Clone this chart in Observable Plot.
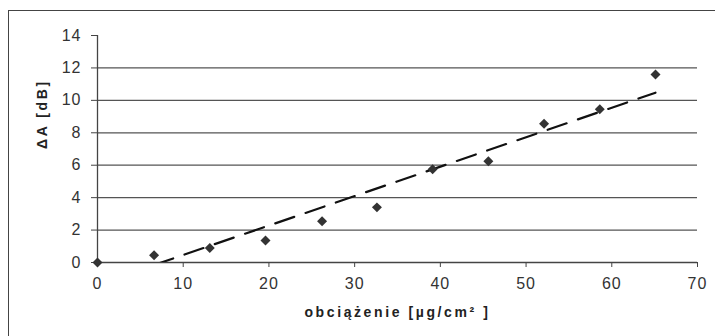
<!DOCTYPE html>
<html>
<head>
<meta charset="utf-8">
<script src="https://cdn.jsdelivr.net/npm/d3@7"></script>
<script src="https://cdn.jsdelivr.net/npm/@observablehq/plot@0.6"></script>
<style>
  html, body { margin: 0; padding: 0; background: #fff; overflow: hidden; }
  #wrap { position: relative; width: 715px; height: 336px; overflow: hidden; }
  #frame { position: absolute; left: 8px; top: 10px; width: 800px; height: 400px; border: 1px solid #444; box-sizing: border-box; pointer-events: none; }
  #chart svg { display: block; }
  g[aria-label="x-axis tick label"] text, g[aria-label="y-axis tick label"] text { letter-spacing: 1px; }
  g[aria-label="text"] text { letter-spacing: 2.6px; }
</style>
</head>
<body>
<div id="wrap"><div id="chart"></div><div id="frame"></div></div>
<script>
// Data
const loading = [0, 6.6, 13.1, 19.6, 26.2, 32.6, 39.1, 45.6, 52.1, 58.6, 65.1];
const deltaA  = [0, 0.45, 0.9, 1.35, 2.55, 3.4, 5.75, 6.25, 8.55, 9.45, 11.6];
const xTicks = [0, 10, 20, 30, 40, 50, 60, 70];
const yTicks = [0, 2, 4, 6, 8, 10, 12, 14];
const gridValues = [2, 4, 6, 8, 10, 12];
const xTitle = "obciążenie [µg/cm² ]";
const yTitle = "ΔA [dB]";

const data = loading.map((x, i) => ({x, y: deltaA[i]}));

const chart = Plot.plot({
  width: 715,
  height: 336,
  marginLeft: 97,
  marginRight: 18,
  marginTop: 35,
  marginBottom: 74,
  style: {fontFamily: "'Liberation Sans', Arial, sans-serif", fontSize: "16px", background: "transparent", color: "#333"},
  x: {domain: [0, 70]},
  y: {domain: [0, 14]},
  marks: [
    Plot.ruleY(gridValues, {stroke: "#555", strokeWidth: 1.3}),
    Plot.axisX({ticks: xTicks, tickSize: 5, tickPadding: 10, label: null, stroke: "#444", fill: "#333"}),
    Plot.axisY({ticks: yTicks, tickSize: 6, tickPadding: 10, label: null, stroke: "#444", fill: "#333"}),
    Plot.ruleY([0], {stroke: "#444", strokeWidth: 1.3}),
    Plot.ruleX([0], {stroke: "#444", strokeWidth: 1.3}),
    Plot.linearRegressionY(data, {x: "x", y: "y", ci: 0, stroke: "#111", strokeWidth: 2.2, strokeDasharray: "20,12", strokeDashoffset: 4, clip: true}),
    Plot.dot(data, {x: "x", y: "y", symbol: "diamond2", r: 4.5, fill: "#333", stroke: "none"}),
    Plot.text([xTitle], {frameAnchor: "bottom", dy: 54, fontWeight: "bold", fontSize: 14, fill: "#222"}),
    Plot.text([yTitle], {frameAnchor: "left", dx: -55, rotate: -90, fontWeight: "bold", fontSize: 14, fill: "#222"})
  ]
});
document.getElementById("chart").appendChild(chart);
</script>
</body>
</html>
